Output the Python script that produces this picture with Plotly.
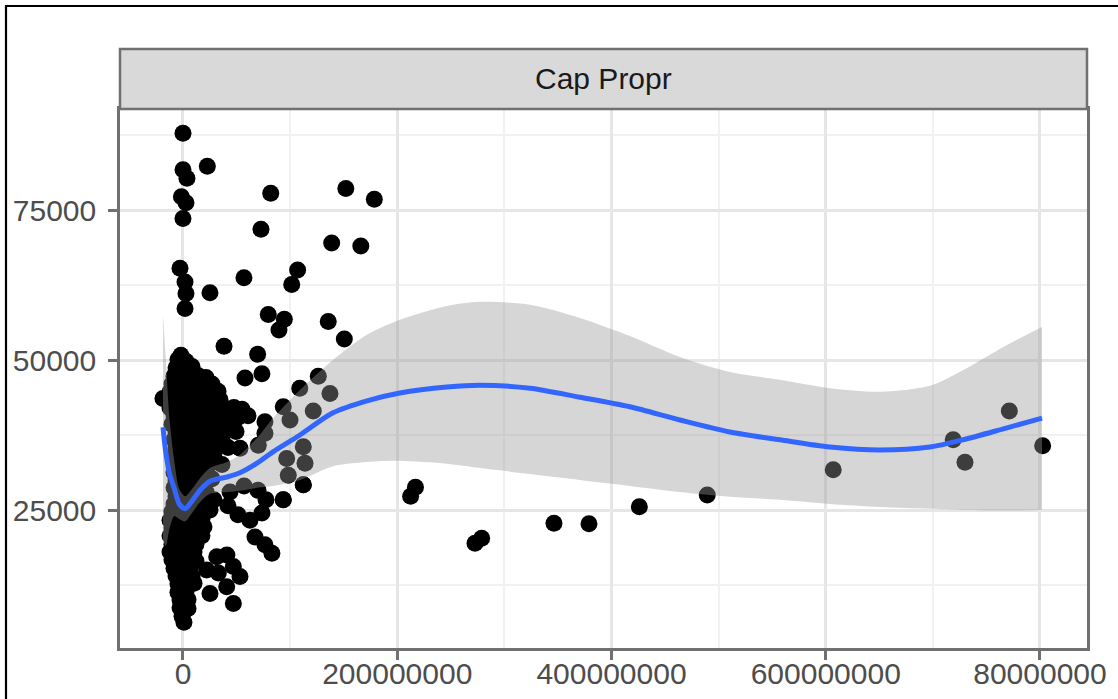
import plotly.graph_objects as go

# ---------------- data ----------------
# x values are in millions, y values in units

# scattered points away from the dense core
spread_x_m = [0, 22.7, 0, 3.7, -1.5, 2.8, 0, 81.9, 72.8, 152, 178.6, 138.8, 166,
              -2.8, 1.9, 2.8, 1.9, 25.2, 56.9, 107, 101.5, 79.6, 94.6, 89.6, 135.6, 150.6,
              38.3, 69.7, -1.9, 57.9, 73.7, 109, 126.3, 137.2, 121.6, 93.6, 76.5, 99.9,
              112.3, 113.9, 96.8, 98.3, 112.3, 93.6, 76.5, 70.3]
spread_y = [87800, 82300, 81700, 80300, 77200, 76200, 73600, 77800, 71800, 78600, 76800, 69500, 69000,
            65300, 63000, 61100, 58600, 61200, 63700, 65000, 62600, 57600, 56800, 55000, 56400, 53500,
            52300, 50950, 50800, 47000, 47700, 45300, 47300, 44400, 41500, 42200, 39700, 40000,
            35550, 32800, 33600, 30800, 29200, 26700, 37800, 35800]

# dense core around zero
core_x_m = [
    -4.7, 2.8,
    -6.5, 0.9, 8.4,
    -8.4, -0.9, 6.5, 14.0, 21.5,
    -10.3, -2.8, 4.7, 12.1, 19.6, 27.1,
    -12.1, -4.7, 2.8, 10.3, 17.7, 25.2, 32.7,
    -18.7,
    -10.3, -2.8, 4.7, 12.1, 19.6, 27.1, 34.5,
    -12.1, -4.7, 2.8, 10.3, 17.7, 25.2, 32.7, 40.1, 47.6, 55.1,
    -8.4, -0.9, 6.5, 14.0, 21.5, 28.9, 36.4, 43.9, 51.3, 60.7,
    -10.3, -2.8, 4.7, 12.1, 19.6, 27.1, 34.5, 42.0,
    -6.5, 0.9, 8.4, 15.9, 23.3, 30.8, 38.3, 49.5,
    -8.4, -0.9, 6.5, 14.0, 21.5, 28.9, 36.4,
    -6.5, 0.9, 8.4, 15.9, 23.3, 30.8, 42.0, 53.2,
    -8.4, -0.9, 6.5, 14.0, 21.5, 28.9,
    -6.5, 0.9, 8.4, 15.9, 25.2, 36.4,
    -8.4, -0.9, 6.5, 14.0, 21.5,
    -6.5, 0.9, 8.4, 15.9, 27.1,
    -8.4, -0.9, 6.5, 14.0, 21.5,
    -6.5, 0.9, 8.4, 28.9,
    -8.4, -0.9, 6.5, 15.9, 25.2,
    -10.3, -2.8, 4.7, 12.1, 20.5,
    -12.1, -4.7, 2.8, 10.3, 17.7,
    -10.3, -2.8, 4.7, 12.1, 19.6,
    -12.1, -4.7, 2.8, 10.3, 17.7,
    -10.3, -2.8, 4.7, 12.1,
    -12.1, -4.7, 2.8, 10.3,
    -10.3, -2.8, 4.7, 12.1,
    -8.4, -0.9, 6.5,
    -6.5, 0.9, 8.4,
    -4.7, 2.8, 10.3,
    -4.7, 2.8,
    -2.8, 4.7,
    -2.8, 4.7,
    -0.9,
    0.9,
]
core_y = [
    50100, 49800,
    48700, 48500, 48900,
    47300, 47500, 47200, 47400, 47100,
    46000, 46200, 45900, 46100, 45800, 46000,
    44700, 44500, 44800, 44600, 44700, 44400, 44800,
    43600,
    43300, 43400, 43200, 43500, 43300, 43100, 43400,
    42000, 42100, 41900, 42000, 42200, 41800, 42000, 41900, 42100, 41800,
    40700, 40500, 40800, 40600, 40700, 40500, 40800, 40600, 40400, 40700,
    39300, 39400, 39200, 39300, 39500, 39200, 39400, 39100,
    38000, 38100, 37900, 38000, 38200, 37800, 38000, 38100,
    36700, 36600, 36800, 36500, 36700, 36600, 36800,
    35300, 35400, 35200, 35300, 35500, 35200, 35400, 35300,
    34000, 34100, 33900, 34000, 34200, 33900,
    32700, 32600, 32800, 32500, 32700, 32600,
    31300, 31400, 31200, 31300, 31500,
    30000, 30100, 29900, 30000, 30200,
    28700, 28600, 28800, 28500, 28000,
    27300, 27400, 27200, 26700,
    26000, 26100, 25900, 26000, 25000,
    24700, 24600, 24800, 24500, 24700,
    23300, 23400, 23200, 23300, 23500,
    22000, 22100, 21900, 22000, 22200,
    20700, 20600, 20800, 20500, 20700,
    19300, 19400, 19200, 19300,
    18000, 18100, 17900, 18000,
    16700, 16600, 16800, 16500,
    15300, 15400, 15200,
    14000, 14100, 13900,
    12700, 12600, 12800,
    11300, 11400,
    10000, 10100,
    8700, 8600,
    7300,
    6300,
]

# small clusters to the right of the core
side_x_m = [43.9, 57.0, 70.0, 77.5, 73.7, 62.5, 51.3, 42.0, 93.6, 112.3,
            67.2, 76.5, 83.0,
            31.5, 41.0, 47.0, 53.2, 40.8, 47.0, 25.2, 22.1, 33.0]
side_y = [28000, 29000, 28300, 26700, 24500, 23300, 24200, 25700, 26700, 29200,
          20500, 19200, 17800,
          17200, 17500, 15600, 13900, 12200, 9400, 11100, 15000, 14500]

# large values on the right
far_x_m = [212.5, 217.0, 272.6, 278.8, 346.3, 379.0, 426.0, 489.4, 607.0, 719.0, 730.0, 771.4, 802.5]
far_y = [27300, 28800, 19450, 20300, 22800, 22700, 25550, 27500, 31700, 36700, 32950, 41500, 35700]

# smoothed trend with its confidence band
smooth_x_m = [-18.7, -16.0, -12.5, -8.0, -3.5, 2.0, 8.4, 15.9, 25.2, 41.1, 53.2, 69.1, 84.0,
              109.2, 140.0, 171.7, 202.5, 246.4, 277.2, 323.9, 370.5, 417.2, 463.9, 510.6,
              557.3, 604.0, 650.6, 697.3, 728.1, 769.2, 801.9]
smooth_fit = [38800, 34500, 31000, 28500, 26000, 25200, 26500, 28300, 29800, 30500, 31200, 32800, 34700,
              37500, 41200, 43200, 44500, 45500, 45800, 45300, 43800, 42200, 40000, 38000,
              36700, 35500, 35000, 35500, 36700, 38700, 40300]
smooth_lo = [20100, 19000, 22000, 24000, 23500, 23100, 24500, 26300, 27700, 28000, 28200, 28700, 29000,
             30000, 32300, 33000, 33200, 32700, 32000, 31000, 30000, 29000, 28000, 27200,
             26700, 26000, 25500, 25200, 25000, 24900, 25000]
smooth_hi = [57500, 50000, 40000, 33000, 28500, 27300, 28500, 30300, 32000, 33000, 34200, 37000, 40300,
             45000, 50000, 54200, 56700, 59000, 59700, 59200, 57000, 54000, 50500, 48000,
             46700, 45300, 44700, 45700, 48300, 52500, 55500]

x_tick_vals = [0, 200e6, 400e6, 600e6, 800e6]
x_tick_text = ["0", "200000000", "400000000", "600000000", "80000000"]
y_tick_vals = [25000, 50000, 75000]
y_tick_text = ["25000", "50000", "75000"]
panel_title = "Cap Propr"

# ---------------- figure ----------------
M = 1e6
W, H = 1118, 699
ML, MR, MT, MB = 120, 31, 109, 51
PW, PH = W - ML - MR, H - MT - MB


def px_to_paper_x(px):
    return (px - ML) / PW


def px_to_paper_y(py):
    return (H - MB - py) / PH


all_x = [v * M for v in spread_x_m + core_x_m + side_x_m + far_x_m]
all_y = spread_y + core_y + side_y + far_y
sx = [v * M for v in smooth_x_m]

fig = go.Figure()

fig.add_trace(go.Scatter(
    x=all_x, y=all_y, mode="markers",
    marker=dict(color="black", size=17, line=dict(width=0)),
    showlegend=False, hoverinfo="skip",
))
fig.add_trace(go.Scatter(
    x=sx, y=smooth_lo, mode="lines",
    line=dict(width=0, shape="spline", smoothing=0.8),
    showlegend=False, hoverinfo="skip",
))
fig.add_trace(go.Scatter(
    x=sx, y=smooth_hi, mode="lines", fill="tonexty",
    fillcolor="rgba(153,153,153,0.4)",
    line=dict(width=0, shape="spline", smoothing=0.8),
    showlegend=False, hoverinfo="skip",
))
fig.add_trace(go.Scatter(
    x=sx, y=smooth_fit, mode="lines",
    line=dict(color="#3366FF", width=5, shape="spline", smoothing=0.8),
    showlegend=False, hoverinfo="skip",
))

axis_font = dict(family="Liberation Sans, Arial, sans-serif", size=30, color="#4d4d4d")
border = "#707070"

fig.update_xaxes(
    range=[-58.8e6, 843.9e6],
    tickmode="array", tickvals=x_tick_vals, ticktext=x_tick_text,
    ticks="outside", ticklen=9, tickwidth=2.5, tickcolor=border,
    tickfont=axis_font, ticklabelstandoff=-12,
    showgrid=True, gridcolor="#e6e6e6", gridwidth=2.5,
    minor=dict(tickvals=[100e6, 300e6, 500e6, 700e6], showgrid=True,
               gridcolor="#f1f1f1", gridwidth=1.5, ticks=""),
    zeroline=False, showline=True, mirror=True, linecolor=border, linewidth=2.5,
    automargin=False,
)
fig.update_yaxes(
    range=[2000, 91833],
    tickmode="array", tickvals=y_tick_vals, ticktext=y_tick_text,
    ticks="outside", ticklen=9, tickwidth=2.5, tickcolor=border,
    tickfont=axis_font, ticklabelstandoff=6,
    showgrid=True, gridcolor="#e6e6e6", gridwidth=2.5,
    minor=dict(tickvals=[12500, 37500, 62500, 87500], showgrid=True,
               gridcolor="#f1f1f1", gridwidth=1.5, ticks=""),
    zeroline=False, showline=True, mirror=True, linecolor=border, linewidth=2.5,
    automargin=False,
)

# facet strip
fig.add_shape(type="rect", xref="paper", yref="paper",
              x0=0, x1=1, y0=1, y1=px_to_paper_y(49),
              fillcolor="#d9d9d9", line=dict(color=border, width=2.5), layer="above")
fig.add_annotation(xref="paper", yref="paper", x=0.5, y=px_to_paper_y(79),
                   text=panel_title, showarrow=False,
                   font=dict(family="Liberation Sans, Arial, sans-serif", size=30, color="#1a1a1a"),
                   xanchor="center", yanchor="middle")

# outer frame
fig.add_shape(type="rect", xref="paper", yref="paper",
              x0=px_to_paper_x(6), x1=px_to_paper_x(1130),
              y0=px_to_paper_y(715), y1=px_to_paper_y(6),
              line=dict(color="black", width=2.2), fillcolor="rgba(0,0,0,0)", layer="above")

fig.update_layout(
    width=W, height=H,
    margin=dict(l=ML, r=MR, t=MT, b=MB, pad=0),
    paper_bgcolor="white", plot_bgcolor="white",
    showlegend=False,
)

fig.write_html("out.html")
